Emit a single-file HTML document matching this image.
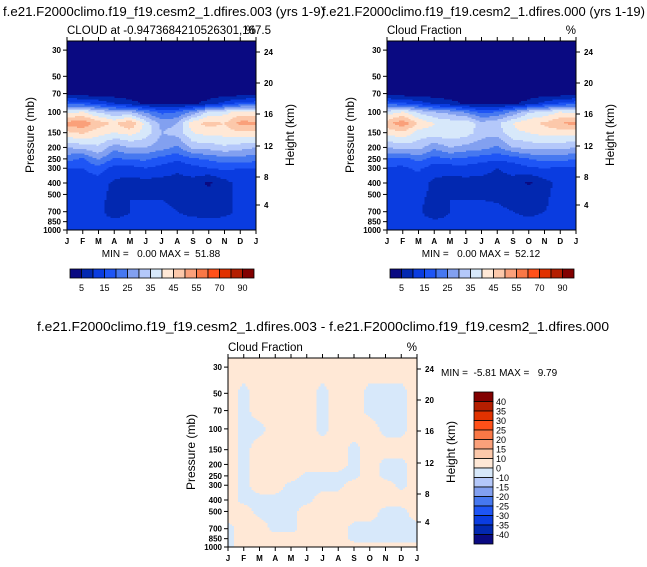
<!DOCTYPE html>
<html><head><meta charset="utf-8"><style>
html,body{margin:0;padding:0;background:#fff;width:647px;height:567px;overflow:hidden}
svg{display:block;font-family:"Liberation Sans",sans-serif}
</style></head><body>
<svg id="fig" width="647" height="567" viewBox="0 0 647 567" xmlns="http://www.w3.org/2000/svg">
<text x="3" y="16" font-size="13" textLength="322" lengthAdjust="spacingAndGlyphs">f.e21.F2000climo.f19_f19.cesm2_1.dfires.003 (yrs 1-9)</text>
<text x="322" y="16" font-size="13" textLength="323" lengthAdjust="spacingAndGlyphs">f.e21.F2000climo.f19_f19.cesm2_1.dfires.000 (yrs 1-19)</text>
<text x="323" y="331" font-size="13" text-anchor="middle" textLength="572" lengthAdjust="spacingAndGlyphs">f.e21.F2000climo.f19_f19.cesm2_1.dfires.003 - f.e21.F2000climo.f19_f19.cesm2_1.dfires.000</text>
</svg>
<script>
const months=["J","F","M","A","M","J","J","A","S","O","N","D","J"];
const presLevels=[30,50,70,85,100,125,150,200,250,300,400,500,700,850,1000];
const presTicks=[30,50,70,100,150,200,250,300,400,500,700,850,1000];
const heightTicks=[24,20,16,12,8,4];
const cloudLevels=[5,10,15,20,25,30,35,40,45,50,55,60,70,80,90];
const cloudLabels=["5","15","25","35","45","55","70","90"];
const diffLevels=[-40,-35,-30,-25,-20,-15,-10,0,10,15,20,25,30,35,40];
const diffLabels=["40","35","30","25","20","15","10","0","-10","-15","-20","-25","-30","-35","-40"];
const colors=["#0a0a82","#0228b0","#0a3ce0","#1e55f5","#4678f0","#82a0f0","#b4c8fa","#d7e8fa","#ffe8d6","#fcc8aa","#faa07a","#fa7846","#ff5019","#e13200","#b41e00","#820000"];
const cloudA=[
[1,1,1,1,1,1,1,1,1,1,1,1,1],
[1,1,1,1,1,1,1,1,1,1,1,1,1],
[2,2,2,2,2,2,1,1,2,2,2,2,2],
[18,17,14,10,7,4,3,3,4,7,12,17,18],
[38,40,34,30,30,24,18,20,26,36,38,42,40],
[52,54,48,44,50,38,28,30,44,47,45,52,52],
[44,46,42,40,42,38,30,32,40,42,42,44,44],
[30,32,34,27,30,30,27,24,32,32,34,32,30],
[22,19,26,19,21,21,18,16,19,21,23,23,22],
[15,15,18,13,13,15,13,11,13,15,16,15,15],
[12,12,12,9,8,8,8,8,8,4,8,12,12],
[13,12,11,9,10,9,9,8,7,7,8,12,13],
[12,11,11,8,10,12,12,10,9,8,9,11,12],
[11,11,11,11,11,11,11,11,11,11,11,11,11],
[12,12,12,12,12,12,12,12,12,12,12,12,12]];
const cloudB=[
[1,1,1,1,1,1,1,1,1,1,1,1,1],
[1,1,1,1,1,1,1,1,1,1,1,1,1],
[2,2,2,2,2,2,1,1,2,2,2,2,2],
[18,16,13,9,7,4,3,3,4,7,12,16,18],
[37,40,34,30,28,24,18,20,26,34,36,40,38],
[48,54,44,40,38,40,32,34,40,44,46,50,52],
[42,44,38,38,39,38,32,32,39,40,42,42,42],
[30,32,32,26,30,28,27,24,30,32,32,32,30],
[20,18,22,18,20,19,17,16,17,20,22,22,20],
[14,14,16,12,12,13,12,10,12,14,15,14,14],
[12,12,12,9,8,8,8,8,8,4,8,12,12],
[13,12,11,9,10,9,9,9,8,8,9,12,13],
[12,11,11,7,10,12,12,11,10,9,10,11,12],
[11,11,11,11,11,11,11,11,11,11,11,11,11],
[12,12,12,12,12,12,12,12,12,12,12,12,12]];
const diffPres=[30,50,70,100,150,200,250,300,400,500,700,850,1000];
const diffVals=[
[3,3,3,3,3,3,3,3,3,3,3,3,3],
[3,-2,3,3,3,3,-2,3,3,-2,-2,-2,3],
[3,-2,3,3,3,3,-2,3,3,-2,-2,-2,3],
[3,-2,-2,3,3,3,-2,3,3,3,-2,-2,3],
[3,-2,3,3,3,3,3,3,-2,3,3,3,3],
[3,-2,3,3,3,3,3,3,-2,3,-2,-2,3],
[3,-2,3,3,3,-2,-2,-2,-2,3,-2,-2,3],
[3,-2,3,3,-2,-2,-2,-2,3,3,3,-2,3],
[3,-2,-2,-2,-2,-2,3,3,3,3,3,3,3],
[3,3,-2,-2,-2,3,3,3,3,3,-2,-2,3],
[-2,3,3,-2,-2,3,3,3,-2,-2,-2,-2,-2],
[-2,3,3,3,3,3,3,3,-2,-2,-2,-2,-2],
[-2,3,3,3,3,3,3,3,3,3,3,3,3]];

const NS="http://www.w3.org/2000/svg";
const svg=document.getElementById('fig');
function el(tag,attrs,parent,txt){const e=document.createElementNS(NS,tag);for(const k in attrs)e.setAttribute(k,attrs[k]);if(txt!==undefined)e.textContent=txt;(parent||svg).appendChild(e);return e;}
function colorFor(v,levels){let i=0;while(i<levels.length&&v>=levels[i])i++;return colors[i];}
const W=189,H=189;
function yScale(p,y0){return y0+189-51.3*Math.log(1000/p);}
function pFromY(y,y0){return 1000/Math.exp((y0+189-y)/51.3);}
function xScale(m,x0){return x0+m*W/12;}
const hPix={24:11,20:42,16:73,12:105,8:136,4:164};

function sample(grid,pres,m,p){
  const lp=Math.log(p);
  let i=0;
  if(p<=pres[0]){i=0;var fy=0;}
  else if(p>=pres[pres.length-1]){i=pres.length-2;var fy=1;}
  else{while(pres[i+1]<p)i++;var fy=(lp-Math.log(pres[i]))/(Math.log(pres[i+1])-Math.log(pres[i]));}
  const j=Math.min(11,Math.floor(m)),fx=m-j;
  const a=grid[i][j]*(1-fx)+grid[i][j+1]*fx;
  const b=grid[i+1][j]*(1-fx)+grid[i+1][j+1]*fx;
  return a*(1-fy)+b*fy;
}

function drawPanel(x0,y0,grid,pres,levels,sub,name){
  const g=el('g',{},svg);
  
  
  const cg=el('g',{'shape-rendering':'crispEdges'},g);
  const step=1.5,NX=96;
  for(let yy=0;yy<H;yy+=step){
    const p=pFromY(y0+yy+step/2,y0);
    let runStart=0,runCol=null;
    for(let k=0;k<=NX;k++){
      let c=null;
      if(k<NX){const m=(k+0.5)*12/NX;c=colorFor(sample(grid,pres,m,p),levels);}
      if(c!==runCol){
        if(runCol!==null){
          const r=el('rect',{x:x0+runStart*W/NX,y:y0+yy,width:(k-runStart)*W/NX+0.5,height:step+0.5,fill:runCol},cg);
          
          
        }
        runStart=k;runCol=c;
      }
    }
  }
  el('rect',{x:x0,y:y0,width:W,height:H,fill:'none',stroke:'#000','stroke-width':1},g);
  months.forEach((m,j)=>{
    const x=xScale(j,x0);
    el('line',{x1:x,x2:x,y1:y0,y2:y0-4,stroke:'#000'},g);
    el('line',{x1:x,x2:x,y1:y0+H,y2:y0+H+4,stroke:'#000'},g);
    const t=el('text',{x:x,y:y0+H+14,'font-size':8,'font-weight':'bold','text-anchor':'middle'},g,m);
    
    
  });
  presTicks.forEach(p=>{
    const y=yScale(p,y0);
    el('line',{x1:x0,x2:x0-4,y1:y,y2:y,stroke:'#000'},g);
    const t=el('text',{x:x0-6,y:y+3,'font-size':8,'font-weight':'bold','text-anchor':'end'},g,String(p));
    
    
  });
  heightTicks.forEach(h=>{
    const y=y0+hPix[h];
    el('line',{x1:x0+W,x2:x0+W+4,y1:y,y2:y,stroke:'#000'},g);
    const t=el('text',{x:x0+W+8,y:y+3,'font-size':8,'font-weight':'bold'},g,String(h));
    
    
  });
  const yt=el('text',{x:0,y:0,'font-size':12,'text-anchor':'middle',transform:`translate(${x0-33},${y0+94}) rotate(-90)`},g,'Pressure (mb)');
  
  
  const ht=el('text',{x:0,y:0,'font-size':12,'text-anchor':'middle',transform:`translate(${x0+W+38},${y0+94}) rotate(-90)`},g,'Height (km)');
  
  
  const st=el('text',{x:x0,y:y0-7,'font-size':11.5},g,sub);
  
  
  const pc=el('text',{x:x0+W,y:y0-7,'font-size':11.5,'text-anchor':'end'},g,'%');
  
  
}
function hColorbar(x0,y0,name){
  const g=el('g',{},svg);
  
  
  const bw=184/16;
  colors.forEach((c,i)=>{el('rect',{x:x0+i*bw,y:y0,width:bw,height:9,fill:c,stroke:'#000','stroke-width':0.8},g);});
  cloudLabels.forEach((l,k)=>{
    const t=el('text',{x:x0+(1+2*k)*bw,y:y0+22,'font-size':9,'text-anchor':'middle'},g,l);
    
    
  });
}
drawPanel(67,41,cloudA,presLevels,cloudLevels,'CLOUD at -0.9473684210526301,167.5','panel-dfires-003');
drawPanel(387,41,cloudB,presLevels,cloudLevels,'Cloud Fraction','panel-dfires-000');
drawPanel(228,358,diffVals,diffPres,diffLevels,'Cloud Fraction','panel-difference');
hColorbar(70,269,'colorbar-left');
hColorbar(390,269,'colorbar-right');
function mm(x,y,s,anchor,name){const t=el('text',{x:x,y:y,'font-size':10,'text-anchor':anchor},svg,s.replace(/ /g,'\u00a0'));}
mm(161,257,'MIN =   0.00 MAX =  51.88','middle','minmax-left');
mm(481,257,'MIN =   0.00 MAX =  52.12','middle','minmax-right');
mm(441,376,'MIN =  -5.81 MAX =   9.79','start','minmax-diff');
(function(){
  const g=el('g',{},svg);
  
  
  const x0=474,y0=392,bh=152/16;
  const rev=colors.slice().reverse();
  rev.forEach((c,i)=>{el('rect',{x:x0,y:y0+i*bh,width:19,height:bh,fill:c,stroke:'#000','stroke-width':0.8},g);});
  diffLabels.forEach((l,k)=>{
    const t=el('text',{x:x0+22,y:y0+(k+1)*bh+3.5,'font-size':9},g,l);
    
    
  });
})();
</script>
</body></html>
